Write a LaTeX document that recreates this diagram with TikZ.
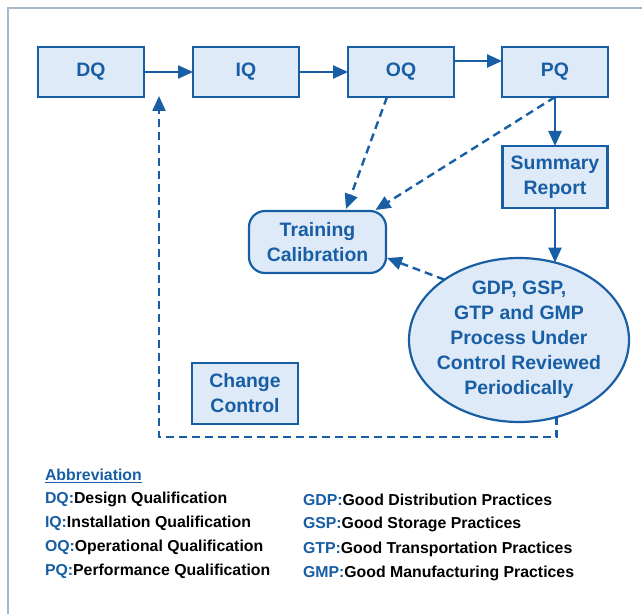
\documentclass[tikz,border=0pt]{standalone}
\usepackage{fontspec}
\setmainfont{Liberation Sans}
\usetikzlibrary{arrows.meta,shapes.geometric,calc}
\definecolor{qblue}{RGB}{24,94,164}
\definecolor{qfill}{RGB}{222,234,247}
\definecolor{qframe}{RGB}{165,184,204}
\begin{document}
\begin{tikzpicture}[x=1bp,y=-1bp,
  every node/.style={inner sep=0pt, outer sep=0pt},
  box/.style={draw=qblue, fill=qfill, line width=2.2bp, text=qblue, align=center,
              font=\fontsize{19.5}{25}\selectfont\bfseries},
  qbox/.style={box, minimum width=106bp, minimum height=50bp},
  flow/.style={draw=qblue, line width=2.4bp, -{Triangle[length=15bp,width=13bp]}},
  feed/.style={flow, dash pattern=on 8bp off 5bp},
  key/.style={anchor=base west, font=\fontsize{15.9}{18}\selectfont\bfseries, text=black}
]
\useasboundingbox (0,0) rectangle (642,614);

% outer frame
\draw[qframe, line width=1.5bp] (8,614) -- (8,8) -- (642,8);

% qualification chain
\node[qbox] (dq) at (91,72) {DQ};
\node[qbox] (iq) at (246,72) {IQ};
\node[qbox] (oq) at (401,72) {OQ};
\node[qbox] (pq) at (555,72) {PQ};

\node[box, minimum width=105bp, minimum height=62bp] (sum) at (555,177) {Summary\\Report};
\node[box, rounded corners=16bp, minimum width=137bp, minimum height=62bp] (train) at (317.5,242) {Training\\Calibration};
\node[box, ellipse, inner sep=-7bp, minimum width=220bp, minimum height=164bp] (ell) at (519,340)
  {GDP, GSP,\\GTP and GMP\\Process Under\\Control Reviewed\\Periodically};
\node[box, minimum width=106bp, minimum height=61bp] (cc) at (245,393.5) {Change\\Control};

% solid flow
\draw[flow] (dq) -- (iq);
\draw[flow] (iq) -- (oq);
\draw[flow] ($(oq.east)+(0,-11)$) -- ($(pq.west)+(0,-11)$);
\draw[flow] (pq.south) -- (sum.north);
\draw[flow] (sum.south) -- (sum.south |- ell.65.5);

% dashed feedback
\draw[feed] ($(oq.south)+(-14,0)$) -- ($(train.north)+(28.5,-2)$);
\draw[feed] (pq.south) -- ($(train.north)+(58,-1)$);
\draw[feed] (ell.141) -- ($(train.east)+(1,16)$);
\coordinate (loopturn) at (159,437);
\coordinate (looptip) at (159,96);
\draw[feed] (ell.-64.6) |- (loopturn) -- (looptip);

% abbreviations
\node[key, text=qblue] (abbr) at (45,480.5) {\underline{Abbreviation}};
\node[key] (kdq) at (45,503.5) {\textcolor{qblue}{DQ:}Design Qualification};
\node[key] (kiq) at (45,527.5) {\textcolor{qblue}{IQ:}Installation Qualification};
\node[key] (koq) at (45,551.5) {\textcolor{qblue}{OQ:}Operational Qualification};
\node[key] (kpq) at (45,575.5) {\textcolor{qblue}{PQ:}Performance Qualification};
\node[key] (kgdp) at (303,505) {\textcolor{qblue}{GDP:}Good Distribution Practices};
\node[key] (kgsp) at (303,528.5) {\textcolor{qblue}{GSP:}Good Storage Practices};
\node[key] (kgtp) at (303,553) {\textcolor{qblue}{GTP:}Good Transportation Practices};
\node[key] (kgmp) at (303,577) {\textcolor{qblue}{GMP:}Good Manufacturing Practices};
\end{tikzpicture}
\end{document}
